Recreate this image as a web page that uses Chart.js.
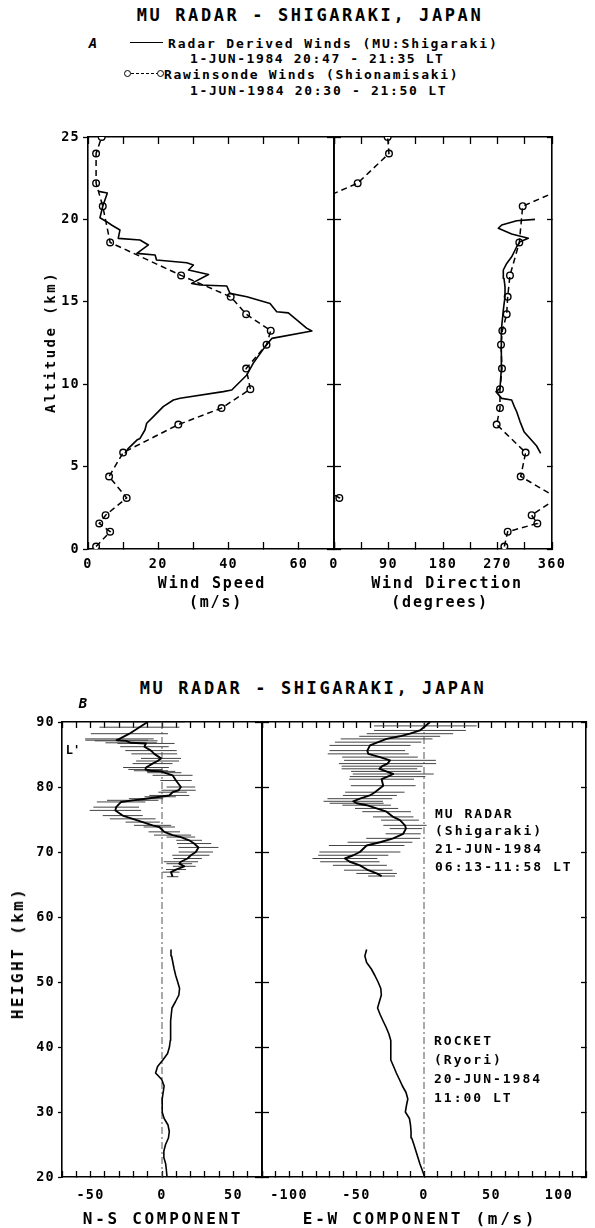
<!DOCTYPE html>
<html><head><meta charset="utf-8">
<script src="https://cdn.jsdelivr.net/npm/chart.js@4.4.1/dist/chart.umd.min.js"></script>
<style>
html,body{margin:0;padding:0;background:#fff;}
body{width:595px;height:1228px;position:relative;overflow:hidden;font-family:'DejaVu Sans Mono',monospace;font-weight:bold;color:#000;}
canvas{position:absolute;}
.t{position:absolute;white-space:nowrap;line-height:1;z-index:5;}
.c{transform:translate(-50%,-50%);}
.l{transform:translate(0,-50%);}
.r{transform:translate(-50%,-50%) rotate(-90deg);}
.dot{position:absolute;width:5px;height:5px;border:1.4px solid #000;border-radius:50%;background:#fff;z-index:6;}
.ln{position:absolute;z-index:5;}
</style></head><body>
<canvas id="aSpeed"></canvas>
<canvas id="aDir"></canvas>
<canvas id="bNS"></canvas>
<canvas id="bEW"></canvas>

<div class="t c" style="left:310px;top:15px;font-size:17px;letter-spacing:2.6px">MU RADAR - SHIGARAKI, JAPAN</div>
<div class="t c" style="left:93px;top:43px;font-size:14px;font-style:italic">A</div>
<div class="ln" style="left:130px;top:42px;width:33px;border-top:1.6px solid #000"></div>
<div class="t l" style="left:168px;top:43px;font-size:13px;letter-spacing:1.9px">Radar Derived Winds (MU:Shigaraki)</div>
<div class="t l" style="left:190px;top:58px;font-size:13px;letter-spacing:1.6px">1-JUN-1984 20:47 - 21:35 LT</div>
<div class="ln" style="left:131px;top:73px;width:28px;border-top:1.5px dashed #000"></div>
<div class="dot" style="left:124px;top:70px"></div>
<div class="dot" style="left:157px;top:70px"></div>
<div class="t l" style="left:164px;top:74px;font-size:13px;letter-spacing:1.7px">Rawinsonde Winds (Shionamisaki)</div>
<div class="t l" style="left:190px;top:90px;font-size:13px;letter-spacing:1.7px">1-JUN-1984 20:30 - 21:50 LT</div>
<div class="t r" style="left:50px;top:342px;font-size:14px;letter-spacing:2.5px">Altitude (km)</div>
<div class="t c" style="left:212px;top:583px;font-size:15px;letter-spacing:1.8px">Wind Speed</div>
<div class="t c" style="left:216px;top:602px;font-size:15px;letter-spacing:1.8px">(m/s)</div>
<div class="t c" style="left:447px;top:583px;font-size:15px;letter-spacing:1.8px">Wind Direction</div>
<div class="t c" style="left:440px;top:602px;font-size:15px;letter-spacing:1.8px">(degrees)</div>

<div class="t c" style="left:313px;top:688px;font-size:17px;letter-spacing:2.6px">MU RADAR - SHIGARAKI, JAPAN</div>
<div class="t c" style="left:83px;top:703px;font-size:14px;font-style:italic">B</div>
<div class="t c" style="left:73px;top:750px;font-size:12px">L'</div>
<div class="t l" style="left:435px;top:813px;font-size:13px;letter-spacing:2px">MU RADAR</div>
<div class="t l" style="left:435px;top:830px;font-size:13px;letter-spacing:2px">(Shigaraki)</div>
<div class="t l" style="left:435px;top:848px;font-size:13px;letter-spacing:2px">21-JUN-1984</div>
<div class="t l" style="left:435px;top:866px;font-size:13px;letter-spacing:2px">06:13-11:58 LT</div>
<div class="t l" style="left:434px;top:1040px;font-size:13px;letter-spacing:2px">ROCKET</div>
<div class="t l" style="left:434px;top:1059px;font-size:13px;letter-spacing:2px">(Ryori)</div>
<div class="t l" style="left:434px;top:1078px;font-size:13px;letter-spacing:2px">20-JUN-1984</div>
<div class="t l" style="left:434px;top:1097px;font-size:13px;letter-spacing:2px">11:00 LT</div>
<div class="t r" style="left:18px;top:953px;font-size:16px;letter-spacing:2.4px">HEIGHT (km)</div>
<div class="t c" style="left:163px;top:1219px;font-size:16px;letter-spacing:2.7px">N-S COMPONENT</div>
<div class="t c" style="left:420px;top:1219px;font-size:16px;letter-spacing:2.7px">E-W COMPONENT (m/s)</div>

<script>
// ---------- Panel A: radar (MU) wind speed profile ----------
const radarAltA = [5.8, 6.11, 6.61, 6.71, 7.22, 7.63, 8.03, 8.64, 9.04, 9.15, 9.55, 9.65, 10.56, 11.27, 12.28, 12.78, 13.23, 13.4, 13.9, 14.33, 14.4, 14.9, 15.31, 15.51, 15.96, 16.02, 16.12, 16.66, 16.93, 17.23, 17.37, 17.54, 17.84, 17.94, 18.45, 18.75, 18.85, 19.36, 19.66, 19.86, 20.1, 20.8, 21.6, 21.7];
const radarSpeedA = [10.5, 11.5, 13.9, 14.8, 16.2, 16.7, 18.6, 21.4, 24.3, 26.2, 38.5, 40.9, 45.2, 47.0, 50.4, 52.3, 63.7, 62.2, 59.4, 57.0, 53.7, 51.8, 45.2, 40.4, 39.5, 31.9, 29.5, 34.3, 28.6, 30.0, 28.1, 19.5, 19.1, 13.9, 17.2, 14.8, 8.6, 9.1, 6.7, 5.3, 3.4, 4.2, 5.5, 3.0];
// ---------- Panel A: radar wind direction profile ----------
const radarAltDirA = [5.8, 6.25, 6.71, 7.12, 7.73, 8.33, 8.64, 9.04, 9.14, 9.55, 9.75, 11.0, 12.5, 13.3, 14.5, 15.31, 15.92, 16.42, 16.93, 17.33, 17.73, 18.34, 18.65, 18.85, 19.12, 19.46, 19.66, 19.92, 20.0];
const radarDirA = [341.3, 334.7, 323.7, 313.8, 307.2, 301.7, 297.8, 293.4, 276.9, 267.5, 274.1, 276.5, 275.8, 276.9, 279.6, 282.4, 282.4, 280.7, 279.6, 285.2, 293.4, 301.7, 307.2, 320.9, 293.4, 271.4, 276.9, 301.7, 331.9];
// ---------- Panel A: rawinsonde ----------
const sondeAlt = [0.15, 1.05, 1.55, 2.05, 3.1, 4.4, 5.85, 7.55, 8.55, 9.7, 10.95, 12.4, 13.25, 14.25, 15.3, 16.6, 18.6, 20.8, 22.2, 24.0, 25.0];
const sondeSpeed = [2.3, 6.3, 3.2, 5.0, 11.0, 6.0, 10.0, 25.7, 38.0, 46.2, 45.0, 50.8, 52.0, 45.0, 40.6, 26.5, 6.3, 4.2, 2.3, 2.3, 3.9];
const sondeDir = [281.3, 286.8, 335.8, 326.4, 8.8, 308.3, 316.5, 268.6, 274.1, 274.1, 277.4, 275.8, 278.0, 285.2, 286.8, 290.6, 306.0, 311.6, 39.1, 90.8, 88.6];
// ---------- Panel A tick labels ----------
const altTickLabels = [0, 5, 10, 15, 20, 25];
const speedTickLabels = [0, 20, 40, 60];
const dirTickLabels = [0, 90, 180, 270, 360];

// ---------- Panel B: MU radar 21-JUN-1984 ----------
const nsHeights = [90.0, 89.2, 88.2, 87.4, 87.2, 87.1, 86.8, 86.7, 86.2, 85.6, 85.1, 84.4, 84.0, 83.6, 83.0, 82.7, 82.5, 82.4, 82.2, 81.8, 81.0, 80.0, 79.5, 79.2, 78.7, 78.5, 78.2, 77.95, 77.7, 76.9, 76.4, 75.6, 75.1, 74.6, 74.1, 73.85, 73.1, 72.6, 72.3, 71.8, 71.3, 70.7, 70.0, 69.5, 69.0, 68.5, 68.2, 67.8, 67.3, 66.9, 66.2];
const nsValues = [-10, -15.8, -22.8, -29.8, -31.7, -25.1, -21.6, -11.2, -12.3, -7.7, -5.4, -0.7, -3.1, -6.6, -11.2, -11.6, -7.7, -0.7, 1.6, 7.4, 9.8, 13.2, 11.6, 7.4, 5.1, -1.3, -11.2, -20.5, -28.6, -32.1, -32.6, -27.5, -20.5, -13.5, -6.6, -1.9, 1.6, 7.4, 13.2, 19.0, 22.5, 25.5, 23.7, 20.2, 17.9, 13.2, 12.1, 15.6, 9.8, 6.3, 7.4];
const nsErrors = [26, 28, 27, 24, 22, 22, 18, 20, 17, 18, 16, 14, 15, 14, 16, 12, 12, 10, 12, 14, 11, 10, 12, 10, 14, 11, 12, 18, 17, 16, 18, 14, 16, 12, 13, 11, 11, 13, 10, 9, 12, 14, 12, 13, 10, 12, 9, 8, 7, 6, 4];
const ewHeights = [90.0, 89.4, 88.7, 88.2, 87.8, 87.4, 86.9, 86.4, 85.6, 85.1, 84.6, 84.1, 83.6, 83.2, 82.8, 82.4, 82.0, 81.6, 81.2, 80.2, 79.2, 78.7, 78.2, 77.8, 77.5, 77.2, 76.7, 76.2, 75.4, 74.9, 74.1, 73.6, 72.8, 72.1, 71.5, 71.0, 70.0, 69.5, 69.0, 68.5, 67.95, 67.2, 66.7, 66.3];
const ewValues = [4.5, 1, -3, -10.4, -18, -27.7, -34, -40, -42, -41.3, -32.6, -25.2, -27, -31, -33, -28, -22.8, -27, -31.4, -30.2, -36.4, -40.1, -47.5, -52.4, -49.9, -42.5, -35.1, -27.7, -22.8, -17.8, -14.1, -13.4, -15.4, -22.8, -32.6, -42.5, -47.5, -52.4, -58.6, -54.9, -47.5, -41.3, -35.1, -31.4];
const ewErrors = [36, 38, 34, 32, 30, 34, 32, 30, 28, 30, 28, 34, 36, 30, 28, 26, 30, 28, 24, 24, 22, 20, 24, 22, 20, 18, 16, 18, 15, 14, 16, 12, 13, 20, 24, 28, 30, 26, 24, 22, 20, 18, 15, 10];
// ---------- Panel B: rocket (Ryori) 20-JUN-1984 ----------
const rocketHeights = [20, 21, 22, 23, 24, 25, 26, 27, 28, 29, 30, 31, 32, 33, 34, 35, 36, 37, 38, 39, 40, 41, 42, 43, 44, 45, 46, 47, 48, 49, 50, 51, 52, 53, 54, 55];
const rocketNS = [3.5, 3.1, 2.6, 1.3, 1.3, 2.5, 4.5, 5.1, 4.2, 1.5, 0.1, 0.0, 0.3, 0.8, 1.5, -0.2, -4.5, -3.1, 0.6, 3.9, 5.2, 5.8, 5.9, 6.0, 6.2, 6.5, 7.0, 9.5, 11.8, 12.3, 11.0, 9.6, 8.5, 7.6, 6.7, 6.3];
const rocketEW = [0.5, -1.2, -3.0, -4.5, -6.0, -7.5, -9.1, -9.6, -10.0, -10.8, -13.8, -13.0, -12.0, -13.3, -16.0, -18.2, -20.5, -22.5, -24.6, -24.6, -24.6, -24.6, -26.0, -28.0, -30.3, -32.5, -34.4, -33.0, -31.6, -32.0, -34.0, -36.4, -39.0, -42.5, -43.8, -42.5];
// ---------- Panel B tick labels ----------
const heightTickLabels = [20, 30, 40, 50, 60, 70, 80, 90];
const nsTickLabels = [-50, 0, 50];
const ewTickLabels = [-100, -50, 0, 50, 100];

// ================= helpers =================
Chart.defaults.font.family = "'DejaVu Sans Mono', monospace";
Chart.defaults.font.size = 13.5;
Chart.defaults.font.weight = 'bold';
Chart.defaults.color = '#000';
Chart.defaults.animation = false;

Chart.register({
  id: 'spacing',
  beforeDraw(chart) { chart.ctx.letterSpacing = '1.3px'; },
  afterDraw(chart) { chart.ctx.letterSpacing = '0px'; }
});
Chart.register({
  id: 'zeroLine',
  beforeDatasetsDraw(chart, args, opts) {
    if (!opts || !opts.show) return;
    const x = chart.scales.x.getPixelForValue(0);
    const {top, bottom} = chart.chartArea;
    const ctx = chart.ctx;
    ctx.save();
    ctx.strokeStyle = '#555'; ctx.lineWidth = 1;
    ctx.setLineDash([7, 3, 2, 3]);
    ctx.beginPath(); ctx.moveTo(x, top); ctx.lineTo(x, bottom); ctx.stroke();
    ctx.restore();
  }
});

const pts = (xs, ys) => xs.map((v, i) => ({x: v, y: ys[i]}));
function wrapSegments(alts, dirs) {
  const out = [];
  for (let i = 0; i < alts.length; i++) {
    if (i > 0) {
      const d = dirs[i] - dirs[i - 1];
      if (Math.abs(d) > 180) {
        const shift = d > 0 ? -360 : 360;
        out.push({x: dirs[i] + shift, y: alts[i]});
        out.push({x: null, y: null});
        out.push({x: dirs[i - 1] - shift, y: alts[i - 1]});
      }
    }
    out.push({x: dirs[i], y: alts[i]});
  }
  return out;
}
function errorBars(hs, vs, es) {
  const out = [];
  hs.forEach((h, i) => {
    out.push({x: vs[i] - es[i], y: h}, {x: vs[i] + es[i], y: h}, {x: null, y: null});
  });
  return out;
}

function axis(o) {
  return {
    type: 'linear', position: o.position, min: o.min, max: o.max,
    afterFit: s => { if (s.isHorizontal()) s.height = o.size; else s.width = o.size; },
    ticks: {
      display: !!o.labels, stepSize: o.step, includeBounds: false, autoSkip: false,
      maxRotation: 0, minRotation: 0, padding: o.padding == null ? 3 : o.padding,
      callback: v => (o.labels && o.labels.includes(v)) ? String(v) : '',
      color: '#000', font: {size: 13.5, weight: 'bold'}
    },
    grid: {drawOnChartArea: false, drawTicks: true, tickLength: o.tick, tickColor: '#000', tickWidth: 1.3, color: '#000'},
    border: {display: true, color: '#000', width: o.bw == null ? 1.6 : o.bw}
  };
}

function makeChart(id, g, datasets, scales, zero) {
  const c = document.getElementById(id);
  const W = (g.R - g.L) + g.wy + g.wy2, H = (g.B - g.T) + g.hx + g.hx2;
  c.width = W; c.height = H;
  c.style.left = (g.L - g.wy) + 'px'; c.style.top = (g.T - g.hx2) + 'px';
  c.style.width = W + 'px'; c.style.height = H + 'px';
  return new Chart(c, {
    type: 'line',
    data: {datasets},
    options: {
      responsive: false, maintainAspectRatio: false, animation: false, events: [],
      layout: {padding: 0},
      plugins: {legend: {display: false}, tooltip: {enabled: false}, title: {display: false}, zeroLine: {show: !!zero}},
      scales
    }
  });
}

const solid = (data, w) => ({data, borderColor: '#000', borderWidth: w || 1.6, pointRadius: 0, tension: 0, fill: false, spanGaps: false, borderJoinStyle: 'round'});
const dashed = data => ({data, borderColor: '#000', borderWidth: 1.5, borderDash: [6, 4], pointRadius: 0, tension: 0, fill: false, spanGaps: false});
const markers = data => ({data, showLine: false, pointRadius: 3.3, pointStyle: 'circle', pointBackgroundColor: '#fff', pointBorderColor: '#000', pointBorderWidth: 1.4});
const bars = data => ({data, borderColor: '#444', borderWidth: 1, pointRadius: 0, tension: 0, fill: false, spanGaps: false});

// ---------- Panel A, wind speed ----------
const gA1 = {L: 88, R: 334, T: 137, B: 549, wy: 40, wy2: 16, hx: 30, hx2: 14};
makeChart('aSpeed', gA1, [
  solid(pts(radarSpeedA, radarAltA)),
  dashed(pts(sondeSpeed, sondeAlt)),
  markers(pts(sondeSpeed, sondeAlt))
], {
  x: axis({position: 'bottom', min: 0, max: 70, step: 10, labels: speedTickLabels, tick: -7, padding: 14, size: gA1.hx}),
  x2: axis({position: 'top', min: 0, max: 70, step: 10, tick: -7, size: gA1.hx2}),
  y: axis({position: 'left', min: 0, max: 25, step: 5, labels: altTickLabels, tick: 5, padding: 3, size: gA1.wy}),
  y2: axis({position: 'right', min: 0, max: 25, step: 5, tick: -7, size: gA1.wy2, bw: 1.8})
});

// ---------- Panel A, wind direction ----------
const gA2 = {L: 334, R: 552, T: 137, B: 549, wy: 20, wy2: 30, hx: 30, hx2: 14};
makeChart('aDir', gA2, [
  solid(wrapSegments(radarAltDirA, radarDirA)),
  dashed(wrapSegments(sondeAlt, sondeDir)),
  markers(pts(sondeDir, sondeAlt))
], {
  x: axis({position: 'bottom', min: 0, max: 360, step: 45, labels: dirTickLabels, tick: -7, padding: 14, size: gA2.hx}),
  x2: axis({position: 'top', min: 0, max: 360, step: 45, tick: -7, size: gA2.hx2}),
  y: axis({position: 'left', min: 0, max: 25, step: 5, tick: -7, size: gA2.wy, bw: 1.8}),
  y2: axis({position: 'right', min: 0, max: 25, step: 5, tick: -5, size: gA2.wy2})
});

// ---------- Panel B, N-S component ----------
const gB1 = {L: 62, R: 262, T: 722, B: 1177, wy: 40, wy2: 18, hx: 34, hx2: 14};
makeChart('bNS', gB1, [
  solid(pts(nsValues, nsHeights), 1.9),
  solid(pts(rocketNS, rocketHeights), 1.6),
  bars(errorBars(nsHeights, nsValues, nsErrors))
], {
  x: axis({position: 'bottom', min: -70, max: 70, step: 10, labels: nsTickLabels, tick: -6, padding: 16, size: gB1.hx}),
  x2: axis({position: 'top', min: -70, max: 70, step: 10, tick: -6, size: gB1.hx2}),
  y: axis({position: 'left', min: 20, max: 90, step: 10, labels: heightTickLabels, tick: 4, padding: 3, size: gB1.wy}),
  y2: axis({position: 'right', min: 20, max: 90, step: 10, tick: -7, size: gB1.wy2, bw: 1.8})
}, true);

// ---------- Panel B, E-W component ----------
const gB2 = {L: 262, R: 586, T: 722, B: 1177, wy: 18, wy2: 18, hx: 34, hx2: 14};
makeChart('bEW', gB2, [
  solid(pts(ewValues, ewHeights), 1.9),
  solid(pts(rocketEW, rocketHeights), 1.6),
  bars(errorBars(ewHeights, ewValues, ewErrors))
], {
  x: axis({position: 'bottom', min: -120, max: 120, step: 10, labels: ewTickLabels, tick: -6, padding: 16, size: gB2.hx}),
  x2: axis({position: 'top', min: -120, max: 120, step: 10, tick: -6, size: gB2.hx2}),
  y: axis({position: 'left', min: 20, max: 90, step: 10, tick: -7, size: gB2.wy, bw: 1.8}),
  y2: axis({position: 'right', min: 20, max: 90, step: 10, tick: -5, size: gB2.wy2})
}, true);
</script>
</body></html>
